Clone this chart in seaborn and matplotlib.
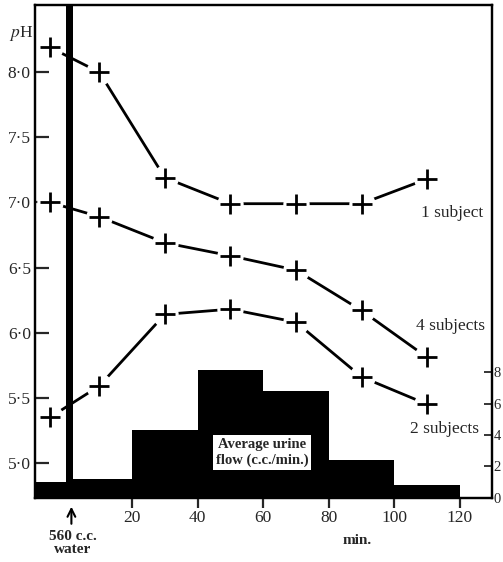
import numpy as np
import pandas as pd
import seaborn as sns
import matplotlib
matplotlib.use("Agg")
import matplotlib.pyplot as plt

# ---- data ----
times = [-5, 10, 30, 50, 70, 90, 110]
ph_1_subject = [8.19, 8.00, 7.19, 6.99, 6.99, 6.99, 7.18]
ph_4_subjects = [7.00, 6.89, 6.69, 6.59, 6.48, 6.17, 5.81]
ph_2_subjects = [5.35, 5.59, 6.14, 6.18, 6.08, 5.66, 5.45]
series_labels = ["1 subject", "4 subjects", "2 subjects"]

flow_edges = [-10, 0, 20, 40, 60, 80, 100, 120]
flow_values = [1.0, 1.2, 4.3, 8.1, 6.8, 2.4, 0.8]

ph_ticks = [5.0, 5.5, 6.0, 6.5, 7.0, 7.5, 8.0]
ph_ticklabels = ["5·0", "5·5", "6·0", "6·5", "7·0", "7·5", "8·0"]
time_ticks = [20, 40, 60, 80, 100, 120]
flow_ticks = [0, 2, 4, 6, 8]

sns.set_style("ticks")
plt.rcParams["font.family"] = ["Liberation Serif", "DejaVu Serif"]
plt.rcParams["mathtext.fontset"] = "stix"

fig = plt.figure(figsize=(5.03, 5.62), dpi=100)
ax = fig.add_axes([0.0696, 0.1139, 0.9085, 0.877])
ax2 = ax.twinx()
ax.set_zorder(ax2.get_zorder() + 1)
ax.patch.set_visible(False)

# urine flow histogram (right axis)
flow_centers = [(a + b) / 2 for a, b in zip(flow_edges[:-1], flow_edges[1:])]
sns.histplot(x=flow_centers, weights=flow_values, bins=flow_edges, ax=ax2,
             color="black", alpha=1, linewidth=0, element="bars", fill=True)
ax2.set_ylim(0, 31.3)
ax2.set_yticks(flow_ticks)
ax2.set_ylabel("")
ax2.tick_params(axis="y", direction="in", length=6, width=1.3, labelsize=10.5, pad=1)

# water intake marker
ax.axvspan(0, 2, color="black", lw=0)

# pH series
df = pd.DataFrame({
    "time": times * 3,
    "pH": ph_1_subject + ph_4_subjects + ph_2_subjects,
    "group": sum([[lab] * len(times) for lab in series_labels], []),
})
for lab in series_labels:
    sub = df[df["group"] == lab]
    sns.lineplot(data=sub, x="time", y="pH", ax=ax, color="black", lw=2.0,
                 estimator=None, sort=False, zorder=2)
    sns.scatterplot(data=sub, x="time", y="pH", ax=ax, color="white", s=360,
                    marker="o", linewidth=0, zorder=3)
    sns.scatterplot(data=sub, x="time", y="pH", ax=ax, color="black", s=190,
                    marker="+", linewidth=2.0, zorder=4)

ax.set_xlim(-9.6, 129.8)
ax.set_ylim(4.73, 8.515)
ax.set_yticks(ph_ticks)
ax.set_yticklabels(ph_ticklabels)
ax.set_xticks(time_ticks)
ax.set_xticklabels([str(t) for t in time_ticks])
ax.set_xlabel("")
ax.set_ylabel("")
ax.tick_params(axis="y", direction="in", length=10, width=1.6, labelsize=12.5, pad=3)
ax.tick_params(axis="x", direction="out", length=7, width=1.6, labelsize=12.5, pad=2)
ax2.tick_params(axis="x", length=0)

for a in (ax, ax2):
    for s in a.spines.values():
        s.set_visible(True)
        s.set_linewidth(1.6)
        s.set_color("black")

# labels
ax.text(-0.03, 0.943, "$p$H", transform=ax.transAxes, ha="center", va="center", fontsize=12.5)
ax.text(117.5, 6.915, "1 subject", ha="center", va="center", fontsize=12.5)
ax.text(117.0, 6.054, "4 subjects", ha="center", va="center", fontsize=12.5)
ax.text(115.4, 5.26, "2 subjects", ha="center", va="center", fontsize=12.5)
ax.text(59.6, 5.08, "Average urine\nflow (c.c./min.)", ha="center", va="center",
        fontsize=10.5, fontweight="bold", linespacing=1.25, zorder=6,
        bbox=dict(boxstyle="square,pad=0.2", fc="white", ec="none"))

ax.annotate("", xy=(1.5, -0.012), xycoords=("data", "axes fraction"),
            xytext=(1.5, -0.058), textcoords=("data", "axes fraction"),
            arrowprops=dict(arrowstyle="->", lw=1.5, color="black", mutation_scale=14))
ax.text(1.8, -0.064, "560 c.c.\nwater", transform=ax.get_xaxis_transform(),
        ha="center", va="top", fontsize=11, fontweight="bold", linespacing=1.05)
ax.text(88.6, -0.074, "min.", transform=ax.get_xaxis_transform(),
        ha="center", va="top", fontsize=11, fontweight="bold")

fig.savefig("out.png", dpi=100)
